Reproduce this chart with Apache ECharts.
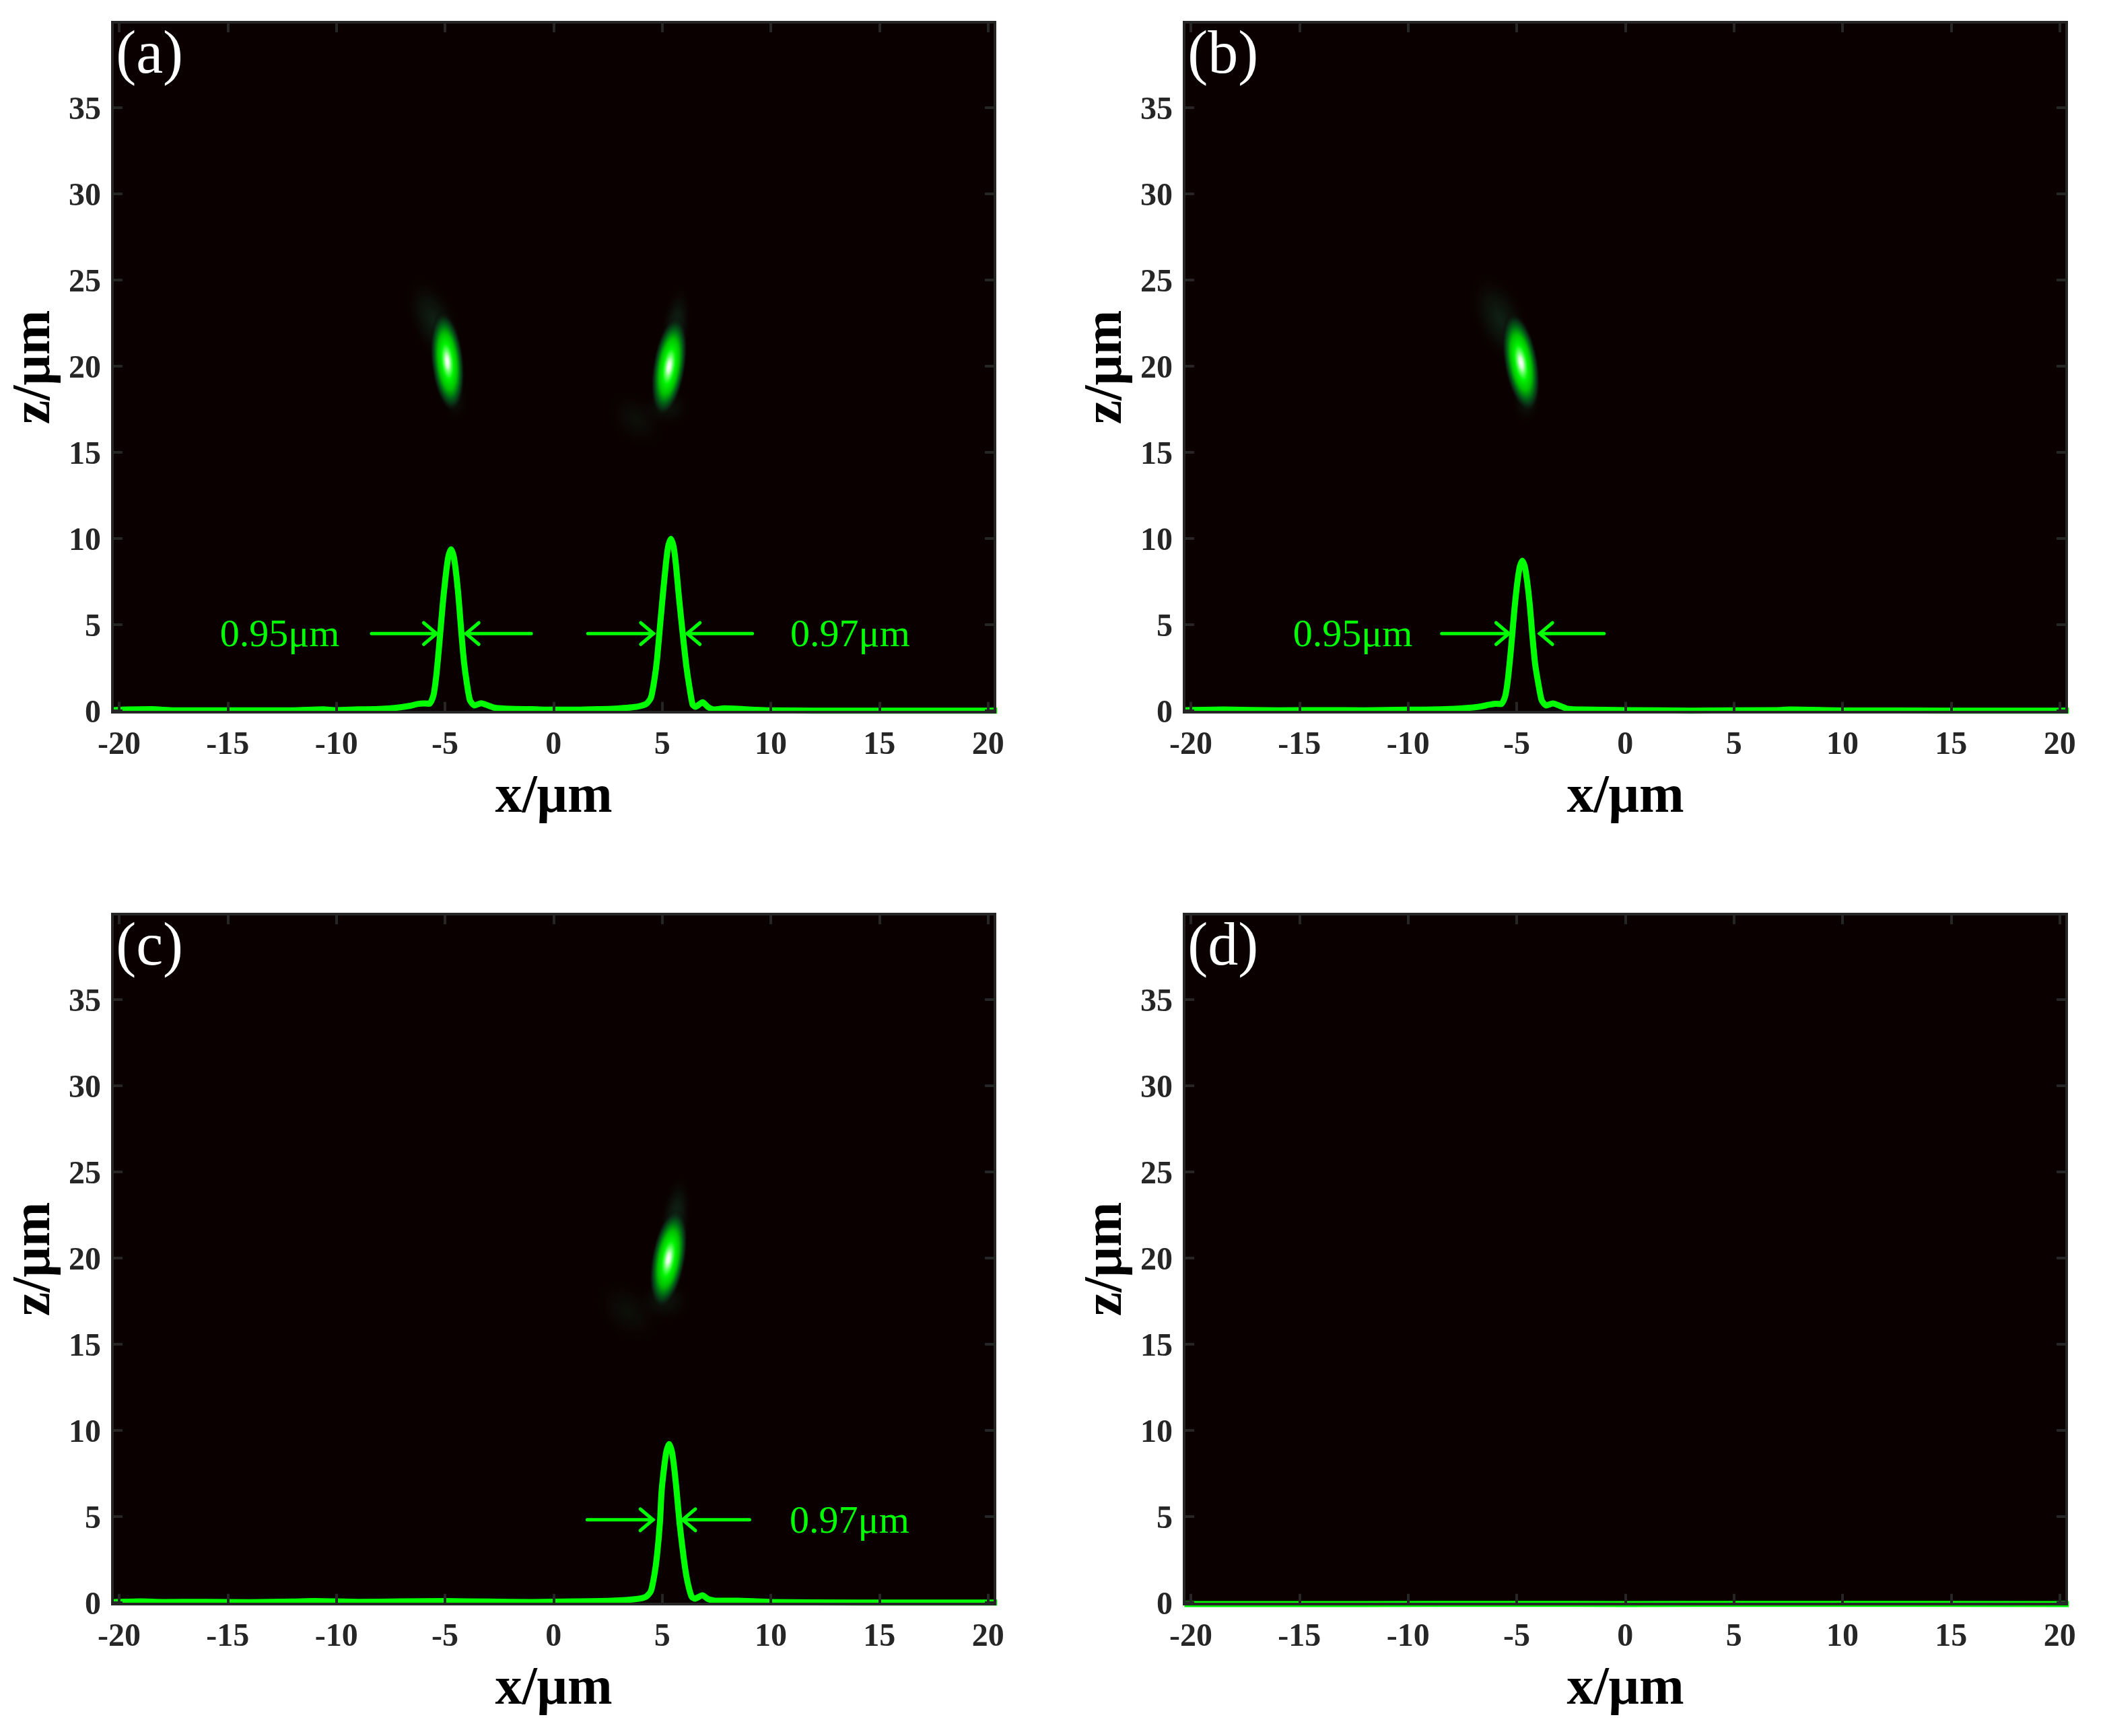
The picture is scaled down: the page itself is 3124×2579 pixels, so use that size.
<!DOCTYPE html>
<html>
<head>
<meta charset="utf-8">
<script src="https://cdn.jsdelivr.net/npm/echarts@6/dist/echarts.min.js"></script>
<style>
  html, body { margin: 0; padding: 0; background: #fff; }
  #main { width: 3124px; height: 2579px; }
</style>
</head>
<body>
<div id="main"></div>
<script>
var panelNames = ['(a)', '(b)', '(c)', '(d)'];
var xTicks = [-20, -15, -10, -5, 0, 5, 10, 15, 20];
var zTicks = [0, 5, 10, 15, 20, 25, 30, 35];

// line profiles, x in um, z in the axis unit
var curveAX = [-20.3, -19.6, -18.5, -17.5, -16, -14, -12, -10.6, -10, -9, -8.2, -7.6, -7, -6.6, -6.27, -5.96, -5.71, -5.53, -5.41, -5.29, -5.17, -5.07, -4.95, -4.84, -4.72, -4.6, -4.49, -4.37, -4.25, -4.13, -4, -3.85, -3.64, -3.33, -3.02, -2.7, -2, -1, 0, 1, 2, 2.68, 3.82, 4.26, 4.48, 4.64, 4.76, 4.9, 5.03, 5.17, 5.28, 5.4, 5.52, 5.63, 5.77, 5.95, 6.1, 6.25, 6.4, 6.53, 6.86, 7.11, 7.42, 7.86, 9.25, 10, 12, 14, 16, 18, 20.42];
var curveAZ = [0.02, 0.06, 0.08, 0.02, 0.02, 0.02, 0.02, 0.07, 0.03, 0.07, 0.08, 0.12, 0.2, 0.28, 0.38, 0.42, 0.4, 0.88, 1.9, 3.45, 5.2, 6.6, 8, 8.96, 9.36, 8.96, 8, 6.5, 4.6, 2.9, 1.65, 0.6, 0.3, 0.43, 0.3, 0.16, 0.1, 0.08, 0.05, 0.05, 0.08, 0.1, 0.22, 0.38, 0.74, 1.78, 2.93, 4.9, 6.7, 8.5, 9.55, 9.97, 9.55, 8.5, 6.6, 4.4, 2.7, 1.4, 0.35, 0.22, 0.48, 0.21, 0.06, 0.13, 0.05, 0.02, 0, 0, 0, 0, 0];
var curveBX = [-20.3, -18.5, -16, -14, -12, -10, -8.5, -7.6, -7, -6.6, -6.27, -5.96, -5.71, -5.53, -5.41, -5.29, -5.17, -5.09, -4.97, -4.86, -4.74, -4.62, -4.51, -4.39, -4.28, -4.15, -4, -3.85, -3.64, -3.33, -3.02, -2.7, -2, 0, 3, 7, 7.6, 10, 15, 20.42];
var curveBZ = [0.02, 0.06, 0.02, 0.03, 0.02, 0.05, 0.07, 0.12, 0.18, 0.25, 0.34, 0.4, 0.38, 0.82, 1.75, 3.2, 4.9, 6.05, 7.43, 8.33, 8.7, 8.33, 7.43, 6.05, 4.4, 2.7, 1.55, 0.6, 0.3, 0.42, 0.28, 0.12, 0.06, 0.03, 0, 0.03, 0.06, 0.01, 0, 0];
var curveCX = [-20.3, -19, -18, -16, -14, -12, -11, -9, -7, -5, -3, -1, 1, 2.68, 3.82, 4.26, 4.48, 4.64, 4.76, 4.9, 4.97, 5.09, 5.2, 5.32, 5.44, 5.55, 5.67, 5.8, 6, 6.15, 6.35, 6.5, 6.85, 7.11, 7.5, 8.5, 10, 14, 20.42];
var curveCZ = [0.02, 0.06, 0.03, 0.04, 0.02, 0.05, 0.08, 0.04, 0.06, 0.08, 0.05, 0.03, 0.06, 0.1, 0.2, 0.34, 0.66, 1.6, 2.7, 4.7, 6.4, 7.85, 8.8, 9.2, 8.8, 7.85, 6.4, 4.6, 2.5, 1.3, 0.35, 0.22, 0.42, 0.2, 0.1, 0.1, 0.03, 0, 0];
var curveDX = [-20.3, -12, -5, 0, 7, 20.42];
var curveDZ = [-0.09, -0.09, -0.08, -0.09, -0.08, -0.09];

// focal spots: x, z, half width, half height, tilt in degrees
var coreA = [[-4.89, 20.26, 0.77, 2.95, 6], [5.32, 19.97, 0.77, 2.95, -9]];
var coreB = [[-4.8, 20.2, 0.8, 2.95, 10]];
var coreC = [[5.29, 19.95, 0.8, 2.95, -10]];
var coreD = [];
// faint side lobes: x, z, half width, half height, tilt, strength
var hazeA = [[-5.5, 22.6, 1.15, 2.9, 24, 0.52], [-4.5, 18, 0.6, 1.3, 0, 0.26], [5.62, 22.2, 0.7, 2.6, -8, 0.65], [3.8, 16.9, 1.6, 1.5, -42, 0.25], [5.2, 17.6, 1.2, 1.2, 0, 0.32]];
var hazeB = [[-5.75, 22.7, 1.25, 3, 24, 0.52], [-4.56, 17.9, 0.7, 1.3, 0, 0.34]];
var hazeC = [[5.6, 22.2, 0.72, 2.7, -8, 0.7], [3.4, 16.9, 1.8, 1.6, -42, 0.25], [5.1, 17.5, 1.3, 1.3, 0, 0.34]];
var hazeD = [];

// width markers: tail x, tip x, z
var arrowsA = [[-8.38, -5.39, 4.47], [-1.03, -4.03, 4.47], [1.58, 4.6, 4.47], [9.15, 6.15, 4.47]];
var arrowsB = [[-8.45, -5.36, 4.47], [-0.98, -3.94, 4.47]];
var arrowsC = [[1.55, 4.58, 4.8], [9.02, 5.94, 4.8]];
var arrowsD = [];
var widthTextsA = [[-15.36, 4.32, '0.95μm'], [10.9, 4.32, '0.97μm']];
var widthTextsB = [[-15.3, 4.32, '0.95μm']];
var widthTextsC = [[10.87, 4.65, '0.97μm']];
var widthTextsD = [];
var nameSpot = [-20.15, 37.93];

var SERIF = '"Liberation Serif", "Times New Roman", serif';
var GREEN = '#00ff00';
var FRAME = '#262626';
var BG = '#0a0000';
var panelLeft = [167, 1759, 167, 1759];
var panelTop = [33, 33, 1358, 1358];
var X_RANGE = [-20.31, 20.32];
var Z_RANGE = [-0.08, 39.95];

var curves = [[curveAX, curveAZ], [curveBX, curveBZ], [curveCX, curveCZ], [curveDX, curveDZ]];
var cores = [coreA, coreB, coreC, coreD];
var hazes = [hazeA, hazeB, hazeC, hazeD];
var arrows = [arrowsA, arrowsB, arrowsC, arrowsD];
var widthTexts = [widthTextsA, widthTextsB, widthTextsC, widthTextsD];

function zip(xs, zs) {
  return xs.map(function (x, i) { return [x, zs[i]]; });
}

function ellipseItem(api, fill) {
  var c = api.coord([api.value(0), api.value(1)]);
  var unit = api.size([1, 1]);
  return {
    type: 'circle',
    shape: { cx: 0, cy: 0, r: 1 },
    x: c[0],
    y: c[1],
    scaleX: api.value(2) * unit[0],
    scaleY: api.value(3) * unit[1],
    rotation: api.value(4) * Math.PI / 180,
    style: { fill: fill }
  };
}

function radial(stops) {
  return new echarts.graphic.RadialGradient(0, 0, 1, stops, true);
}

function renderCore(params, api) {
  return ellipseItem(api, radial([
    { offset: 0, color: '#ffffff' },
    { offset: 0.1, color: '#d8ffd8' },
    { offset: 0.22, color: '#60ff60' },
    { offset: 0.35, color: '#00f400' },
    { offset: 0.55, color: '#00c000' },
    { offset: 0.7, color: '#007014' },
    { offset: 0.85, color: 'rgba(10,46,22,0.9)' },
    { offset: 1, color: 'rgba(10,0,0,0)' }
  ]));
}

function renderHaze(params, api) {
  var a = api.value(5);
  return ellipseItem(api, radial([
    { offset: 0, color: 'rgba(20,64,38,' + a + ')' },
    { offset: 0.45, color: 'rgba(18,52,32,' + a * 0.6 + ')' },
    { offset: 0.75, color: 'rgba(14,30,20,' + a * 0.25 + ')' },
    { offset: 1, color: 'rgba(10,0,0,0)' }
  ]));
}

function renderArrow(params, api) {
  var tail = api.coord([api.value(0), api.value(2)]);
  var tip = api.coord([api.value(1), api.value(2)]);
  var dir = tip[0] > tail[0] ? 1 : -1;
  var lineStyle = { stroke: GREEN, lineWidth: 5, fill: null, lineCap: 'round', lineJoin: 'miter' };
  return {
    type: 'group',
    children: [
      { type: 'polyline', shape: { points: [tail, tip] }, style: lineStyle },
      { type: 'polyline', shape: { points: [[tip[0] - dir * 19, tip[1] - 16], tip, [tip[0] - dir * 19, tip[1] + 16]] }, style: lineStyle }
    ]
  };
}

function textRenderer(font, fill) {
  return function (params, api) {
    var c = api.coord([api.value(0), api.value(1)]);
    return {
      type: 'text',
      x: c[0],
      y: c[1],
      style: { text: api.value(2), font: font, fill: fill, align: 'left', verticalAlign: 'middle' }
    };
  };
}

function customSeries(i, rows, render, z, clip) {
  return {
    type: 'custom',
    xAxisIndex: i * 2,
    yAxisIndex: i * 2,
    data: rows,
    renderItem: render,
    encode: { x: 0, y: 1 },
    clip: clip,
    silent: true,
    animation: false,
    z: z
  };
}

var grid = [], xAxis = [], yAxis = [], series = [];

panelNames.forEach(function (name, i) {
  grid.push({
    left: panelLeft[i], top: panelTop[i], width: 1311, height: 1024.7,
    outerBoundsMode: 'none',
    show: true, backgroundColor: BG, borderWidth: 0
  });
  var line = { show: true, onZero: false, lineStyle: { color: FRAME, width: 4, cap: 'square' } };
  var tick = function (vals) {
    return { show: true, inside: true, length: 15, customValues: vals, lineStyle: { color: FRAME, width: 4 } };
  };
  var labelStyle = { fontFamily: SERIF, fontWeight: 'bold', fontSize: 48, color: FRAME };
  var nameStyle = { fontFamily: SERIF, fontWeight: 'bold', fontSize: 80, color: '#000' };
  xAxis.push({
    type: 'value', gridIndex: i, position: 'bottom', min: X_RANGE[0], max: X_RANGE[1], z: 5,
    name: 'x/μm', nameLocation: 'middle', nameGap: 88, nameTextStyle: nameStyle,
    axisLine: line, axisTick: tick(xTicks), splitLine: { show: false },
    axisLabel: Object.assign({ margin: 26, customValues: xTicks, hideOverlap: false }, labelStyle)
  }, {
    type: 'value', gridIndex: i, position: 'top', min: X_RANGE[0], max: X_RANGE[1], z: 5,
    axisLine: line, axisTick: tick(xTicks), splitLine: { show: false }, axisLabel: { show: false }
  });
  yAxis.push({
    type: 'value', gridIndex: i, position: 'left', min: Z_RANGE[0], max: Z_RANGE[1], z: 5,
    name: 'z/μm', nameLocation: 'middle', nameGap: 75, nameTextStyle: nameStyle,
    axisLine: line, axisTick: tick(zTicks), splitLine: { show: false },
    axisLabel: {
      margin: 17, customValues: zTicks, hideOverlap: false,
      formatter: '{v|{value}}',
      rich: { v: Object.assign({ padding: [9, 0, 0, 0] }, labelStyle) }
    }
  }, {
    type: 'value', gridIndex: i, position: 'right', min: Z_RANGE[0], max: Z_RANGE[1], z: 5,
    axisLine: line, axisTick: tick(zTicks), splitLine: { show: false }, axisLabel: { show: false }
  });

  series.push(customSeries(i, hazes[i], renderHaze, 1, true));
  series.push(customSeries(i, cores[i], renderCore, 2, true));
  series.push({
    type: 'line',
    xAxisIndex: i * 2,
    yAxisIndex: i * 2,
    data: zip(curves[i][0], curves[i][1]),
    showSymbol: false,
    smooth: 0.2,
    clip: false,
    silent: true,
    animation: false,
    z: 3,
    lineStyle: { color: GREEN, width: 9, join: 'round' }
  });
  series.push(customSeries(i, arrows[i], renderArrow, 4, false));
  series.push(customSeries(i, widthTexts[i], textRenderer('58px ' + SERIF, GREEN), 6, false));
  series.push(customSeries(i, [[nameSpot[0], nameSpot[1], name]], textRenderer('90px ' + SERIF, '#ffffff'), 6, false));
});

var chart = echarts.init(document.getElementById('main'), null, { renderer: 'canvas' });
chart.setOption({
  animation: false,
  backgroundColor: '#ffffff',
  tooltip: { show: false },
  grid: grid,
  xAxis: xAxis,
  yAxis: yAxis,
  series: series
});
</script>
</body>
</html>
